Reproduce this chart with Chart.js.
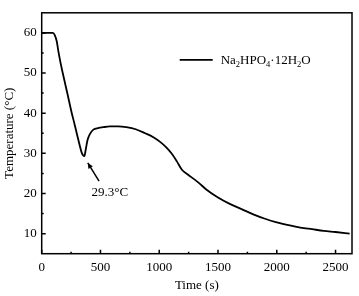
<!DOCTYPE html>
<html><head><meta charset="utf-8">
<script src="https://cdn.jsdelivr.net/npm/chart.js@4"></script>
<style>html,body{margin:0;padding:0;background:#fff}#wrap{width:359px;height:296px}</style>
</head><body><div id="wrap"><canvas id="c"></canvas></div>
<script>
const timeS = [0, 50, 95, 112, 128, 142, 160, 179, 220, 256, 280, 298, 320, 341, 355, 363, 375, 390, 410, 440, 480, 520, 580, 650, 720, 800, 880, 950, 1010, 1060, 1107, 1150, 1193, 1240, 1334, 1400, 1500, 1600, 1700, 1800, 1900, 2000, 2100, 2200, 2300, 2400, 2500, 2620];
const tempC = [60, 60, 60, 59.4, 57.9, 55.4, 52.6, 50, 44.7, 40, 37.2, 35, 32.4, 30.1, 29.4, 29.3, 31, 33.3, 34.8, 35.9, 36.3, 36.5, 36.7, 36.7, 36.5, 36, 35, 34, 32.8, 31.5, 29.9, 28, 25.9, 24.8, 22.7, 21, 19, 17.4, 16.1, 14.8, 13.7, 12.8, 12.1, 11.5, 11.1, 10.7, 10.4, 10.0];
const xTicks = [0, 500, 1000, 1500, 2000, 2500];
const xMinorTicks = [250, 750, 1250, 1750, 2250];
const yTicks = [10, 20, 30, 40, 50, 60];
const yMinorTicks = [15, 25, 35, 45, 55];
const seriesLabel = 'Na2HPO4·12H2O';
const minLabel = '29.3°C';
const arrowTip = [392, 27.6];
const arrowTail = [488, 23.1];
const minLabelPos = [579, 20.1];

const FONT = 'Liberation Serif';

const decor = {
  id: 'decor',
  afterDatasetsDraw(chart) {
    const ctx = chart.ctx, a = chart.chartArea;
    const xs = chart.scales.x, ys = chart.scales.y;
    ctx.save();
    ctx.strokeStyle = '#000';
    ctx.lineWidth = 1.5;
    ctx.strokeRect(a.left, a.top, a.right - a.left, a.bottom - a.top);
    ctx.beginPath();
    xTicks.forEach(v => { const p = xs.getPixelForValue(v); ctx.moveTo(p, a.bottom); ctx.lineTo(p, a.bottom - 4); });
    xMinorTicks.forEach(v => { const p = xs.getPixelForValue(v); ctx.moveTo(p, a.bottom); ctx.lineTo(p, a.bottom - 2); });
    yTicks.forEach(v => { const p = ys.getPixelForValue(v); ctx.moveTo(a.left, p); ctx.lineTo(a.left + 4, p); });
    yMinorTicks.forEach(v => { const p = ys.getPixelForValue(v); ctx.moveTo(a.left, p); ctx.lineTo(a.left + 2, p); });
    ctx.stroke();
    const tx = xs.getPixelForValue(arrowTip[0]), ty = ys.getPixelForValue(arrowTip[1]);
    const sx = xs.getPixelForValue(arrowTail[0]), sy = ys.getPixelForValue(arrowTail[1]);
    ctx.lineWidth = 1.5;
    ctx.beginPath(); ctx.moveTo(sx, sy); ctx.lineTo(tx, ty); ctx.stroke();
    const ang = Math.atan2(ty - sy, tx - sx), hl = 6, hw = 0.45;
    ctx.fillStyle = '#000';
    ctx.beginPath();
    ctx.moveTo(tx, ty);
    ctx.lineTo(tx - hl * Math.cos(ang - hw), ty - hl * Math.sin(ang - hw));
    ctx.lineTo(tx - hl * Math.cos(ang + hw), ty - hl * Math.sin(ang + hw));
    ctx.closePath(); ctx.fill();
    ctx.font = '13px "' + FONT + '"';
    ctx.textAlign = 'center'; ctx.textBaseline = 'middle';
    ctx.fillText(minLabel, xs.getPixelForValue(minLabelPos[0]), ys.getPixelForValue(minLabelPos[1]));
    const ly = a.top + 47;
    ctx.lineWidth = 1.8;
    ctx.beginPath(); ctx.moveTo(a.left + 138, ly); ctx.lineTo(a.left + 171, ly); ctx.stroke();
    let x = a.left + 179;
    const base = ly + 4.5;
    ctx.textAlign = 'left'; ctx.textBaseline = 'alphabetic';
    const parts = seriesLabel.match(/[A-Za-z·]+|\d+/g);
    parts.forEach((p, i) => {
      const isDigit = /^\d+$/.test(p);
      const sub = isDigit && i > 0 && !/·$/.test(parts[i-1]);
      if (sub) {
        ctx.font = '8.5px "' + FONT + '"';
        ctx.fillText(p, x, base + 2.5);
      } else {
        ctx.font = '13px "' + FONT + '"';
        ctx.fillText(p, x, base);
      }
      x += ctx.measureText(p).width;
    });
    ctx.restore();
  }
};

new Chart(document.getElementById('c'), {
  type: 'line',
  data: {
    datasets: [{
      label: seriesLabel,
      data: timeS.map((t, i) => ({ x: t, y: tempC[i] })),
      borderColor: '#000', borderWidth: 1.8, pointRadius: 0,
      cubicInterpolationMode: 'monotone', fill: false
    }]
  },
  options: {
    responsive: true, maintainAspectRatio: false, animation: false,
    layout: { padding: { left: 0, top: 3, right: 7, bottom: 0 } },
    plugins: { legend: { display: false }, tooltip: { enabled: false } },
    scales: {
      x: {
        type: 'linear', min: 0, max: 2640,
        afterBuildTicks: s => { s.ticks = xTicks.map(v => ({ value: v })); },
        afterFit: s => { s.height = 42.3; },
        grid: { display: false, drawTicks: false },
        border: { display: false },
        ticks: { color: '#000', font: { family: FONT, size: 13 }, padding: 6, maxRotation: 0, callback: v => String(v) },
        title: { display: true, text: 'Time (s)', color: '#000', font: { family: FONT, size: 13 }, padding: { top: 0, bottom: 3 } }
      },
      y: {
        type: 'linear', min: 5, max: 65,
        afterBuildTicks: s => { s.ticks = yTicks.map(v => ({ value: v })); },
        afterFit: s => { s.width = 41.7; },
        grid: { display: false, drawTicks: false },
        border: { display: false },
        ticks: { color: '#000', font: { family: FONT, size: 13 }, padding: 5, callback: v => String(v) },
        title: { display: true, text: 'Temperature (°C)', color: '#000', font: { family: FONT, size: 13 }, padding: { top: 2, bottom: 0 } }
      }
    }
  },
  plugins: [decor]
});
</script></body></html>
